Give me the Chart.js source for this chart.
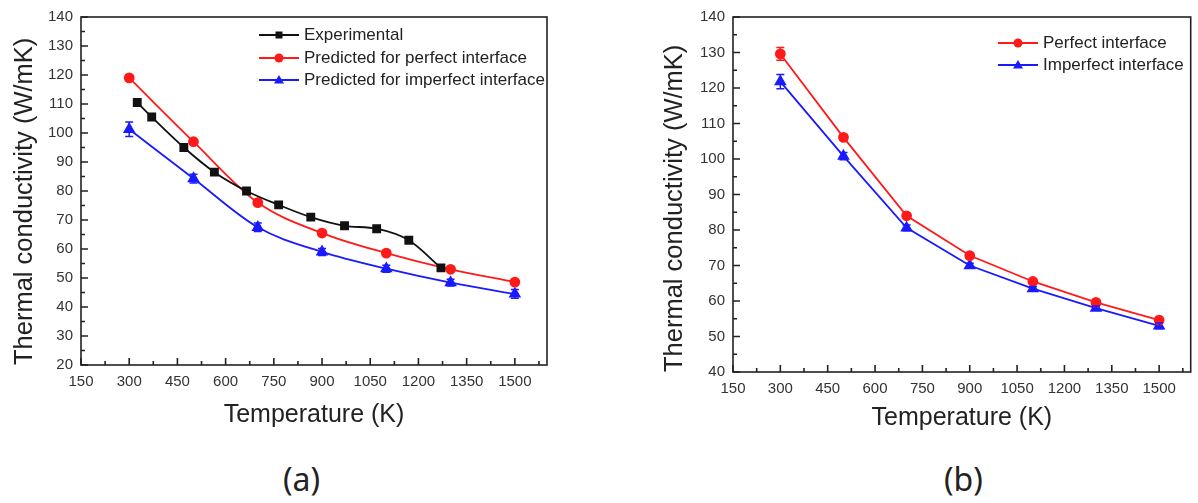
<!DOCTYPE html>
<html>
<head>
<meta charset="utf-8">
<script src="https://cdn.jsdelivr.net/npm/chart.js@4.4.1/dist/chart.umd.min.js"></script>
<style>
  body { margin: 0; background: #fff; width: 1198px; height: 503px; position: relative; overflow: hidden;
         font-family: "Liberation Sans", Arial, sans-serif; }
  .panel { position: absolute; top: 0; }
  .legend { position: absolute; font-size: 17px; color: #222; }
  .legend .row { display: flex; align-items: center; white-space: nowrap; }
  .legend svg { margin-right: 5px; }
  .caption { position: absolute; top: 463px; line-height: 1; font-family: "Noto Sans", sans-serif; font-size: 32px; color: #222; }
</style>
</head>
<body>
<canvas id="chartA" class="panel" style="left:0px" width="560" height="440"></canvas>
<canvas id="chartB" class="panel" style="left:600px" width="598" height="440"></canvas>
<div id="legendA" class="legend" style="left:259px; top:24px"></div>
<div id="legendB" class="legend" style="left:998px; top:32px"></div>
<div class="caption" style="left:283px">(a)</div>
<div class="caption" style="left:944px">(b)</div>
<script>
// panel (a)
const tempExp = [325, 370, 470, 565, 665, 765, 865, 970, 1070, 1170, 1270];
const kExp = [110.5, 105.5, 95, 86.5, 80, 75.2, 71, 68, 67, 63, 53.5];
const tempPred = [300, 500, 700, 900, 1100, 1300, 1500];
const kPerfectA = [119, 97, 76, 65.5, 58.6, 53, 48.6];
const errPerfectA = [1, 0.8, 0.8, 0.8, 0.8, 0.8, 0.8];
const kImperfectA = [101.3, 84.3, 67.5, 59, 53.2, 48.4, 44.5];
const errImperfectA = [2.5, 1.5, 1.5, 1.2, 1.2, 1.2, 1.5];

// panel (b)
const kPerfectB = [129.6, 106.1, 84, 72.8, 65.5, 59.6, 54.6];
const errPerfectB = [1.8, 0.8, 0.5, 0.5, 0.5, 0.5, 0.5];
const kImperfectB = [121.8, 100.8, 80.6, 70, 63.5, 58, 53];
const errImperfectB = [2, 1, 0.8, 0.6, 0.6, 0.6, 0.8];

// tick labels
const xTicks = [150, 300, 450, 600, 750, 900, 1050, 1200, 1350, 1500];
const yTicksA = [20, 30, 40, 50, 60, 70, 80, 90, 100, 110, 120, 130, 140];
const yTicksB = [40, 50, 60, 70, 80, 90, 100, 110, 120, 130, 140];

const RED = "#ff1a1a";
const BLUE = "#1a1aff";
const BLACK = "#111";

Chart.defaults.font.family = '"Liberation Sans", Arial, sans-serif';
Chart.defaults.color = "#333";

const toPoints = (xs, ys) => xs.map((x, i) => ({ x: x, y: ys[i] }));

// error bars from dataset.errors
const errorBars = {
  id: "errorBars",
  afterDatasetsDraw(chart) {
    const { ctx, scales: { y } } = chart;
    ctx.save();
    chart.data.datasets.forEach((ds, i) => {
      if (!ds.errors) return;
      const meta = chart.getDatasetMeta(i);
      ctx.strokeStyle = ds.borderColor;
      ctx.lineWidth = 1.5;
      meta.data.forEach((pt, j) => {
        const v = ds.data[j].y;
        const e = ds.errors[j];
        const top = y.getPixelForValue(v + e);
        const bot = y.getPixelForValue(v - e);
        ctx.beginPath();
        ctx.moveTo(pt.x, top); ctx.lineTo(pt.x, bot);
        ctx.moveTo(pt.x - 4, top); ctx.lineTo(pt.x + 4, top);
        ctx.moveTo(pt.x - 4, bot); ctx.lineTo(pt.x + 4, bot);
        ctx.stroke();
      });
    });
    ctx.restore();
  }
};

// box round the plot and inward ticks (major + minor)
const frame = {
  id: "frame",
  afterDraw(chart) {
    const { ctx, chartArea: a, scales: { x, y } } = chart;
    ctx.save();
    ctx.strokeStyle = "#222";
    ctx.lineWidth = 1.6;
    ctx.strokeRect(a.left, a.top, a.right - a.left, a.bottom - a.top);
    ctx.beginPath();
    const xs = x.ticks.map(t => t.value);
    const xStep = xs[1] - xs[0];
    xs.forEach(v => {
      const px = x.getPixelForValue(v);
      ctx.moveTo(px, a.bottom); ctx.lineTo(px, a.bottom - 7);
      const m = v + xStep / 2;
      if (m < x.max) {
        const pm = x.getPixelForValue(m);
        ctx.moveTo(pm, a.bottom); ctx.lineTo(pm, a.bottom - 4);
      }
    });
    const ys = y.ticks.map(t => t.value);
    const yStep = ys[1] - ys[0];
    ys.forEach(v => {
      const py = y.getPixelForValue(v);
      ctx.moveTo(a.left, py); ctx.lineTo(a.left + 7, py);
      const m = v + yStep / 2;
      if (m < y.max) {
        const pm = y.getPixelForValue(m);
        ctx.moveTo(a.left, pm); ctx.lineTo(a.left + 4, pm);
      }
    });
    ctx.stroke();
    ctx.restore();
  }
};

function makeOptions(yMin, yTicks, yWidth, yTitlePad, xHeight, xTitlePad, pad) {
  return {
    responsive: false,
    animation: false,
    layout: { padding: pad },
    plugins: { legend: { display: false }, tooltip: { enabled: false } },
    scales: {
      x: {
        type: "linear",
        min: 150,
        max: 1600,
        grid: { display: false, drawTicks: false },
        border: { display: false },
        afterBuildTicks: s => { s.ticks = xTicks.map(v => ({ value: v })); },
        afterFit: s => { s.height = xHeight; },
        ticks: { font: { size: 15 }, padding: 8, maxRotation: 0, callback: v => String(v) },
        title: { display: true, text: "Temperature (K)", color: "#222",
                 font: { size: 25 }, padding: { top: 0, bottom: xTitlePad } }
      },
      y: {
        min: yMin,
        max: 140,
        grid: { display: false, drawTicks: false },
        border: { display: false },
        afterBuildTicks: s => { s.ticks = yTicks.map(v => ({ value: v })); },
        afterFit: s => { s.width = yWidth; },
        ticks: { font: { size: 15 }, padding: 8, callback: v => String(v) },
        title: { display: true, text: "Thermal conductivity (W/mK)", color: "#222", align: "start",
                 font: { size: 25.5 }, padding: { top: yTitlePad, bottom: 0 } }
      }
    }
  };
}

const chartA = new Chart(document.getElementById("chartA"), {
  type: "line",
  data: {
    datasets: [
      {
        label: "Experimental",
        data: toPoints(tempExp, kExp),
        borderColor: BLACK, backgroundColor: BLACK, borderWidth: 1.8,
        pointStyle: "rect", pointRadius: 5, cubicInterpolationMode: "monotone"
      },
      {
        label: "Predicted for perfect interface",
        data: toPoints(tempPred, kPerfectA), errors: errPerfectA,
        borderColor: RED, backgroundColor: RED, borderWidth: 1.8,
        pointStyle: "circle", pointRadius: 4.5, cubicInterpolationMode: "monotone"
      },
      {
        label: "Predicted for imperfect interface",
        data: toPoints(tempPred, kImperfectA), errors: errImperfectA,
        borderColor: BLUE, backgroundColor: BLUE, borderWidth: 1.8,
        pointStyle: "triangle", pointRadius: 5.5, cubicInterpolationMode: "monotone"
      }
    ]
  },
  options: makeOptions(20, yTicksA, 81, 10, 75, 10, { left: 0, top: 16, right: 13, bottom: 0 }),
  plugins: [errorBars, frame]
});

const chartB = new Chart(document.getElementById("chartB"), {
  type: "line",
  data: {
    datasets: [
      {
        label: "Perfect interface",
        data: toPoints(tempPred, kPerfectB), errors: errPerfectB,
        borderColor: RED, backgroundColor: RED, borderWidth: 1.8,
        pointStyle: "circle", pointRadius: 4.5, tension: 0
      },
      {
        label: "Imperfect interface",
        data: toPoints(tempPred, kImperfectB), errors: errImperfectB,
        borderColor: BLUE, backgroundColor: BLUE, borderWidth: 1.8,
        pointStyle: "triangle", pointRadius: 5.5, tension: 0
      }
    ]
  },
  options: makeOptions(40, yTicksB, 133, 60, 68, 7, { left: 0, top: 15, right: 5, bottom: 0 }),
  plugins: [errorBars, frame]
});

// legend inside the plot, top right, built from the datasets
function markerSvg(style, color) {
  let mark = "";
  if (style === "rect") mark = `<rect x="16.5" y="7.5" width="7" height="7" fill="${color}"/>`;
  else if (style === "circle") mark = `<circle cx="20" cy="11" r="4.5" fill="${color}"/>`;
  else mark = `<polygon points="20,6 25,14.5 15,14.5" fill="${color}"/>`;
  return `<svg width="40" height="22"><line x1="0" y1="11" x2="40" y2="11" stroke="${color}" stroke-width="1.8"/>${mark}</svg>`;
}

function buildLegend(chart, el, rowHeight) {
  el.innerHTML = chart.data.datasets.map(ds =>
    `<div class="row" style="height:${rowHeight}px">${markerSvg(ds.pointStyle, ds.borderColor)}<span>${ds.label}</span></div>`
  ).join("");
}

buildLegend(chartA, document.getElementById("legendA"), 22.5);
buildLegend(chartB, document.getElementById("legendB"), 22);
</script>
</body>
</html>
